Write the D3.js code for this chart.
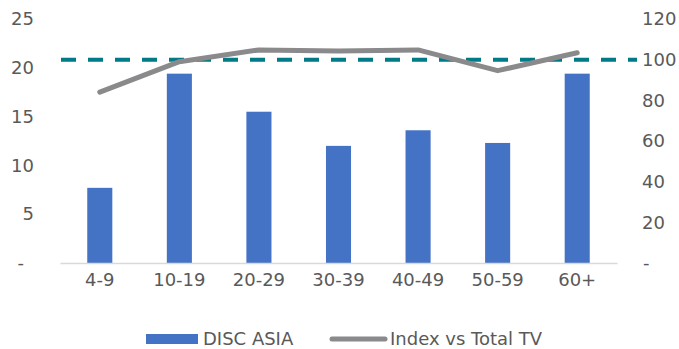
<!DOCTYPE html>
<html>
<head>
<meta charset="utf-8">
<script src="https://cdn.jsdelivr.net/npm/d3@7"></script>
<style>
  body { margin: 0; background: #fff; }
</style>
</head>
<body>
<div id="chart"></div>
<script>
const categories = ["4-9", "10-19", "20-29", "30-39", "40-49", "50-59", "60+"];
const discAsia = [7.7, 19.4, 15.5, 12.0, 13.6, 12.3, 19.4];
const indexVsTotal = [84, 99, 104.8, 104.3, 104.8, 94.6, 103.4];
const leftTicks = [0, 5, 10, 15, 20, 25];
const rightTicks = [0, 20, 40, 60, 80, 100, 120];
const referenceIndex = 100;

const width = 679, height = 349;
const fontFamily = "'DejaVu Sans', Verdana, sans-serif";
const textColor = "#595959";

var svg = d3.select("#chart")
    .append("svg")
    .attr("width", width)
    .attr("height", height);

var x = d3.scaleBand()
    .domain(categories)
    .range([60, 617])
    .paddingInner(0.685)
    .paddingOuter(0.3425);

var yLeft = d3.scaleLinear()
    .domain([0, 25])
    .range([263, 19]);

var yRight = d3.scaleLinear()
    .domain([0, 120])
    .range([263, 19]);

var fmt = d => d === 0 ? "-" : d;

// left axis
svg.append("g")
    .attr("class", "y-axis-left")
    .attr("transform", "translate(60,0)")
    .call(d3.axisLeft(yLeft).tickValues(leftTicks).tickSize(0).tickPadding(26).tickFormat(fmt))
    .call(g => g.select(".domain").remove())
    .call(g => g.selectAll("text")
        .style("font-family", fontFamily)
        .style("font-size", "18px")
        .style("fill", textColor)
        .attr("dx", d => d === 0 ? -10 : 0));

// right axis
svg.append("g")
    .attr("class", "y-axis-right")
    .attr("transform", "translate(617,0)")
    .call(d3.axisRight(yRight).tickValues(rightTicks).tickSize(0).tickPadding(25).tickFormat(fmt))
    .call(g => g.select(".domain").remove())
    .call(g => g.selectAll("text")
        .style("font-family", fontFamily)
        .style("font-size", "18px")
        .style("fill", textColor)
        .attr("dx", d => d === 0 ? 1 : 0));

// bars
svg.selectAll("rect.bar")
    .data(discAsia)
    .enter().append("rect")
    .attr("class", "bar")
    .attr("x", (d, i) => x(categories[i]))
    .attr("y", d => yLeft(d))
    .attr("width", x.bandwidth())
    .attr("height", d => yLeft(0) - yLeft(d))
    .attr("fill", "#4472C4");

// x axis
svg.append("g")
    .attr("class", "x-axis")
    .attr("transform", "translate(0,263)")
    .call(d3.axisBottom(x).tickSize(0).tickPadding(10).tickSizeOuter(0))
    .call(g => g.select(".domain").attr("stroke", "#D9D9D9").attr("stroke-width", 1.5))
    .call(g => g.selectAll("text")
        .style("font-family", fontFamily)
        .style("font-size", "18px")
        .style("fill", textColor));

// reference line at index 100
svg.append("line")
    .attr("x1", 61)
    .attr("x2", 637)
    .attr("y1", yRight(referenceIndex))
    .attr("y2", yRight(referenceIndex))
    .attr("stroke", "#007A87")
    .attr("stroke-width", 4)
    .attr("stroke-dasharray", "15,12");

// index line
var line = d3.line()
    .x((d, i) => x(categories[i]) + x.bandwidth() / 2)
    .y(d => yRight(d));

svg.append("path")
    .datum(indexVsTotal)
    .attr("d", line)
    .attr("fill", "none")
    .attr("stroke", "#8A8A8C")
    .attr("stroke-width", 5)
    .attr("stroke-linecap", "round")
    .attr("stroke-linejoin", "round");

// legend
var legend = svg.append("g").attr("class", "legend");

legend.append("rect")
    .attr("x", 146)
    .attr("y", 334)
    .attr("width", 52)
    .attr("height", 10)
    .attr("fill", "#4472C4");

legend.append("text")
    .attr("x", 203)
    .attr("y", 345)
    .style("font-family", fontFamily)
    .style("font-size", "18px")
    .style("fill", textColor)
    .text("DISC ASIA");

legend.append("line")
    .attr("x1", 332)
    .attr("x2", 385)
    .attr("y1", 339)
    .attr("y2", 339)
    .attr("stroke", "#8A8A8C")
    .attr("stroke-width", 5)
    .attr("stroke-linecap", "round");

legend.append("text")
    .attr("x", 390)
    .attr("y", 345)
    .style("font-family", fontFamily)
    .style("font-size", "18px")
    .style("fill", textColor)
    .text("Index vs Total TV");
</script>
</body>
</html>
